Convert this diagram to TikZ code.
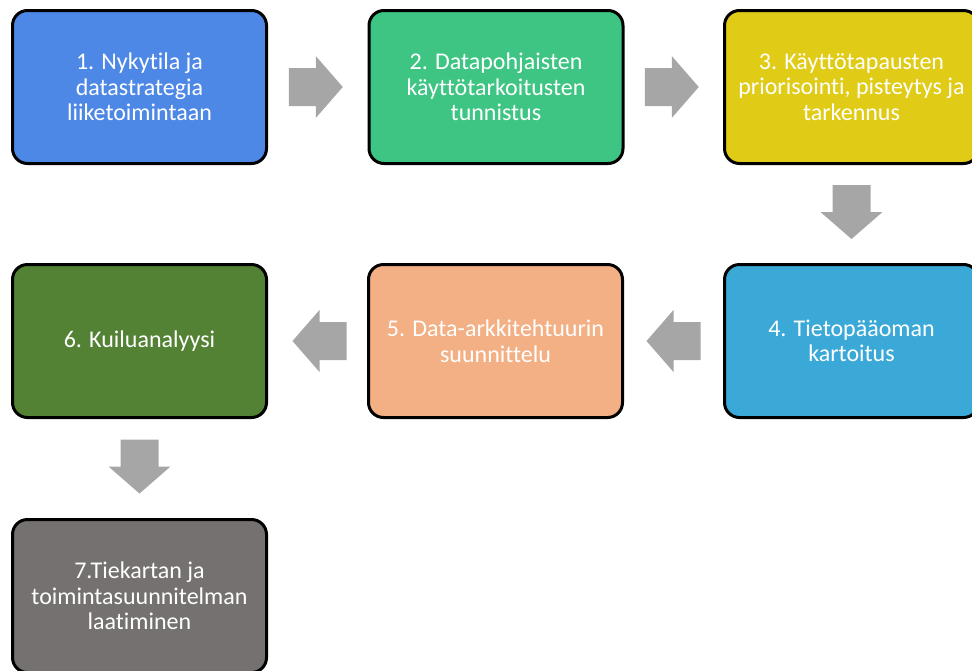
\documentclass[tikz,border=0pt]{standalone}
\usepackage{fontspec}
\setmainfont{Carlito}[Ligatures={NoCommon}]
\usetikzlibrary{calc}
\definecolor{c1}{RGB}{78,136,230}
\definecolor{c2}{RGB}{62,197,132}
\definecolor{c3}{RGB}{224,203,22}
\definecolor{c4}{RGB}{59,169,216}
\definecolor{c5}{RGB}{243,176,133}
\definecolor{c6}{RGB}{84,130,53}
\definecolor{c7}{RGB}{118,113,113}
\definecolor{arrowgray}{RGB}{166,166,166}
\tikzset{
  stepbox/.style={draw=black, line width=3pt, rounded corners=15pt,
    minimum width=254pt, minimum height=153pt, text=white, align=center,
    font=\fontsize{24}{25.5}\selectfont, inner sep=2pt},
  barrow/.pic={\fill[arrowgray] (-27pt,-19pt) -- (0pt,-19pt) -- (0pt,-31pt) -- (27pt,0pt) -- (0pt,31pt) -- (0pt,19pt) -- (-27pt,19pt) -- cycle;}
}
\begin{document}
\begin{tikzpicture}[x=1pt,y=-1pt]
\useasboundingbox (0,0) rectangle (972,670);
\node[stepbox, fill=c1] (b1) at (139.5,87) {1. Nykytila ja\\datastrategia\\liiketoimintaan};
\node[stepbox, fill=c2] (b2) at (496,87) {2. Datapohjaisten\\käyttötarkoitusten\\tunnistus};
\node[stepbox, fill=c3] (b3) at (851.5,87) {3. Käyttötapausten\\priorisointi, pisteytys ja\\tarkennus};
\node[stepbox, fill=c4] (b4) at (851.5,341) {4. Tietopääoman\\kartoitus};
\node[stepbox, fill=c5] (b5) at (495.5,341) {5. Data-arkkitehtuurin\\suunnittelu};
\node[stepbox, fill=c6] (b6) at (139.5,341) {6. Kuiluanalyysi};
\node[stepbox, fill=c7] (b7) at (139.5,596) {7.Tiekartan ja\\toimintasuunnitelman\\laatiminen};
\pic at ($(b1.east)!0.5!(b2.west)+(-2,0)$) {barrow};
\pic at ($(b2.east)!0.5!(b3.west)+(-2,0)$) {barrow};
\pic[rotate=-90] at ($(b3.south)!0.5!(b4.north)+(0,-2)$) {barrow};
\pic[rotate=180] at ($(b4.west)!0.5!(b5.east)+(0,0)$) {barrow};
\pic[rotate=180] at ($(b5.west)!0.5!(b6.east)+(2,0)$) {barrow};
\pic[rotate=-90] at ($(b6.south)!0.5!(b7.north)+(0,-2)$) {barrow};
\end{tikzpicture}
\end{document}
